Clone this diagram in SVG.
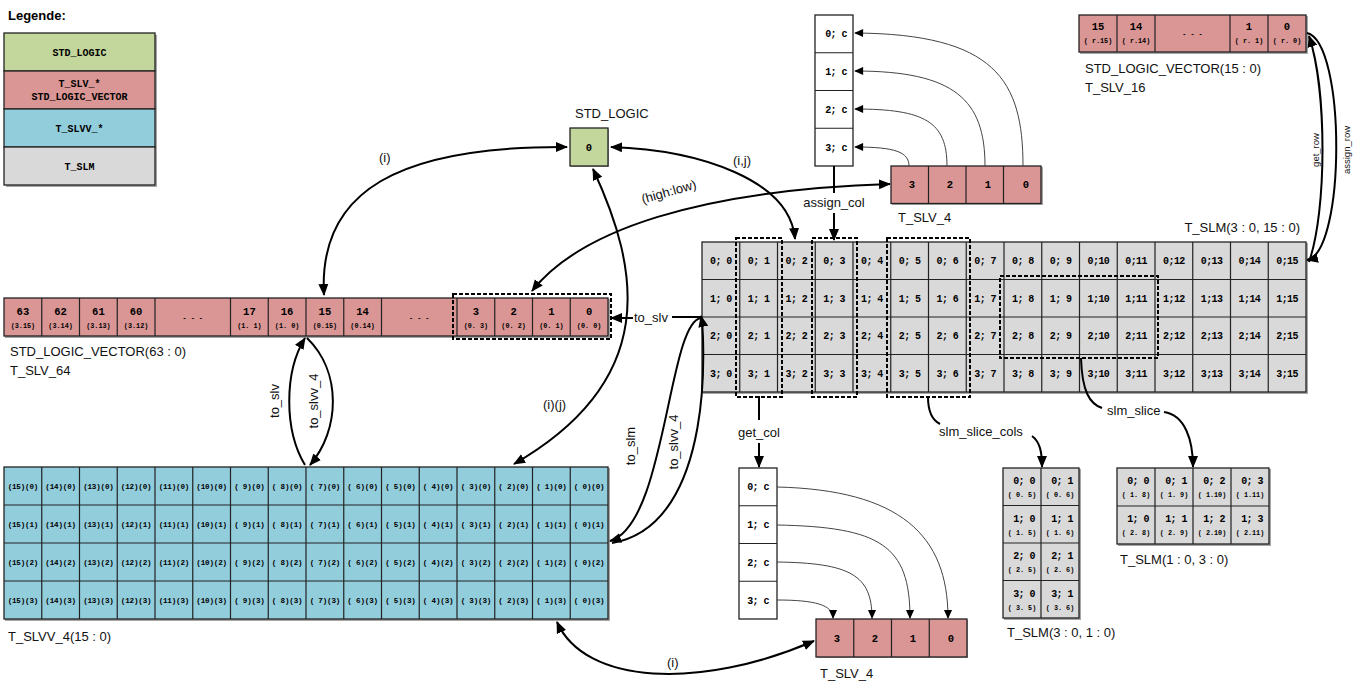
<svg xmlns="http://www.w3.org/2000/svg" width="1356" height="689" viewBox="0 0 1356 689">
<style>
.g{fill:#c3d69b}.r{fill:#da9694}.b{fill:#92cddc}.s{fill:#d9d9d9}.w{fill:#fff}
.bx{stroke:#222;stroke-width:1.3}
.gl{stroke:#222;stroke-width:1.2;fill:none}
.c{font-family:"Liberation Mono",monospace;font-weight:bold;font-size:10px;text-anchor:middle;fill:#000;letter-spacing:-0.6px}
.n{font-family:"Liberation Mono",monospace;font-weight:bold;font-size:10.5px;text-anchor:middle;fill:#000}
.sub{font-family:"Liberation Mono",monospace;font-weight:bold;font-size:6.8px;text-anchor:middle;fill:#000}
.v{font-family:"Liberation Mono",monospace;font-weight:bold;font-size:7.6px;text-anchor:middle;fill:#000;letter-spacing:-0.2px}
.lg{font-family:"Liberation Mono",monospace;font-weight:bold;font-size:10px;text-anchor:middle;fill:#000}
.l{font-family:"Liberation Sans",Arial,sans-serif;font-size:13px;fill:#111}
.ls{font-family:"Liberation Sans",Arial,sans-serif;font-size:9.5px;fill:#111;text-anchor:middle}
.dash{fill:none;stroke:#000;stroke-width:2;stroke-dasharray:4,2}
.k{fill:none;stroke:#000;stroke-width:2}
.t{fill:none;stroke:#444;stroke-width:1}
.sh{fill:#a6a6a6}
</style>
<defs>
<marker id="a" viewBox="0 0 12 12" refX="11" refY="6" markerWidth="12" markerHeight="12" markerUnits="userSpaceOnUse" orient="auto-start-reverse"><path d="M0,1 L12,6 L0,11 z" fill="#000"/></marker>
<marker id="as" viewBox="0 0 10 10" refX="9" refY="5" markerWidth="10" markerHeight="9" markerUnits="userSpaceOnUse" orient="auto-start-reverse"><path d="M0,0.5 L10,5 L0,9.5 z" fill="#000"/></marker>
</defs>
<rect width="1356" height="689" fill="#fff"/>

<g id="legend">
<text x="8" y="20" font-family="Liberation Sans,Arial,sans-serif" font-weight="bold" font-size="13">Legende:</text>
<rect x="6" y="35" width="151" height="152" class="sh"/>
<rect x="4" y="33" width="151" height="38" class="g bx"/>
<rect x="4" y="71" width="151" height="38" class="r bx"/>
<rect x="4" y="109" width="151" height="38" class="b bx"/>
<rect x="4" y="147" width="151" height="38" class="s bx"/>
<text x="79.5" y="56" class="lg">STD_LOGIC</text>
<text x="79.5" y="87" class="lg">T_SLV_*</text>
<text x="79.5" y="100" class="lg">STD_LOGIC_VECTOR</text>
<text x="79.5" y="132" class="lg">T_SLVV_*</text>
<text x="79.5" y="170" class="lg">T_SLM</text>
</g>

<g id="std_logic">
<text x="575" y="118" class="l">STD_LOGIC</text>
<rect x="571" y="129" width="38" height="38" class="sh"/>
<rect x="570" y="128" width="38" height="38" class="g bx"/>
<text x="589" y="151" class="n">0</text>
</g>

<g id="t_slv_64">
<rect x="5" y="299" width="605" height="39" class="sh"/>
<rect x="4" y="298" width="604" height="38" class="r bx"/>
<path class="gl" d="M41.75,298V336M79.5,298V336M117.25,298V336M155,298V336M230.5,298V336M268.25,298V336M306,298V336M343.75,298V336M381.5,298V336M457,298V336M494.75,298V336M532.5,298V336M570.25,298V336"/>
<text x="22.9" y="315" class="n">63</text><text x="22.9" y="328" class="sub">(3.15)</text>
<text x="60.6" y="315" class="n">62</text><text x="60.6" y="328" class="sub">(3.14)</text>
<text x="98.4" y="315" class="n">61</text><text x="98.4" y="328" class="sub">(3.13)</text>
<text x="136.1" y="315" class="n">60</text><text x="136.1" y="328" class="sub">(3.12)</text>
<text x="192.75" y="320" class="sub">- - -</text>
<text x="249.4" y="315" class="n">17</text><text x="249.4" y="328" class="sub">(1. 1)</text>
<text x="287.1" y="315" class="n">16</text><text x="287.1" y="328" class="sub">(1. 0)</text>
<text x="324.9" y="315" class="n">15</text><text x="324.9" y="328" class="sub">(0.15)</text>
<text x="362.6" y="315" class="n">14</text><text x="362.6" y="328" class="sub">(0.14)</text>
<text x="419.25" y="320" class="sub">- - -</text>
<text x="475.9" y="315" class="n">3</text><text x="475.9" y="328" class="sub">(0. 3)</text>
<text x="513.6" y="315" class="n">2</text><text x="513.6" y="328" class="sub">(0. 2)</text>
<text x="551.4" y="315" class="n">1</text><text x="551.4" y="328" class="sub">(0. 1)</text>
<text x="589.1" y="315" class="n">0</text><text x="589.1" y="328" class="sub">(0. 0)</text>
<rect x="453" y="294" width="158" height="45" class="dash"/>
<text x="10" y="356" class="l">STD_LOGIC_VECTOR(63 : 0)</text>
<text x="10" y="375" class="l">T_SLV_64</text>
</g>

<g id="t_slvv_4">
<rect x="5" y="468" width="605" height="153" class="sh"/>
<rect x="4" y="467" width="604" height="152" class="b bx"/>
<path class="gl" d="M41.75,467V619M79.5,467V619M117.25,467V619M155,467V619M192.75,467V619M230.5,467V619M268.25,467V619M306,467V619M343.75,467V619M381.5,467V619M419.25,467V619M457,467V619M494.75,467V619M532.5,467V619M570.25,467V619M4,505H608M4,543H608M4,581H608"/>
<text x="22.9" y="489" class="v">(15)(0)</text><text x="60.6" y="489" class="v">(14)(0)</text><text x="98.4" y="489" class="v">(13)(0)</text><text x="136.1" y="489" class="v">(12)(0)</text><text x="173.9" y="489" class="v">(11)(0)</text><text x="211.6" y="489" class="v">(10)(0)</text><text x="249.4" y="489" class="v">( 9)(0)</text><text x="287.1" y="489" class="v">( 8)(0)</text><text x="324.9" y="489" class="v">( 7)(0)</text><text x="362.6" y="489" class="v">( 6)(0)</text><text x="400.4" y="489" class="v">( 5)(0)</text><text x="438.1" y="489" class="v">( 4)(0)</text><text x="475.9" y="489" class="v">( 3)(0)</text><text x="513.6" y="489" class="v">( 2)(0)</text><text x="551.4" y="489" class="v">( 1)(0)</text><text x="589.1" y="489" class="v">( 0)(0)</text>
<text x="22.9" y="527" class="v">(15)(1)</text><text x="60.6" y="527" class="v">(14)(1)</text><text x="98.4" y="527" class="v">(13)(1)</text><text x="136.1" y="527" class="v">(12)(1)</text><text x="173.9" y="527" class="v">(11)(1)</text><text x="211.6" y="527" class="v">(10)(1)</text><text x="249.4" y="527" class="v">( 9)(1)</text><text x="287.1" y="527" class="v">( 8)(1)</text><text x="324.9" y="527" class="v">( 7)(1)</text><text x="362.6" y="527" class="v">( 6)(1)</text><text x="400.4" y="527" class="v">( 5)(1)</text><text x="438.1" y="527" class="v">( 4)(1)</text><text x="475.9" y="527" class="v">( 3)(1)</text><text x="513.6" y="527" class="v">( 2)(1)</text><text x="551.4" y="527" class="v">( 1)(1)</text><text x="589.1" y="527" class="v">( 0)(1)</text>
<text x="22.9" y="565" class="v">(15)(2)</text><text x="60.6" y="565" class="v">(14)(2)</text><text x="98.4" y="565" class="v">(13)(2)</text><text x="136.1" y="565" class="v">(12)(2)</text><text x="173.9" y="565" class="v">(11)(2)</text><text x="211.6" y="565" class="v">(10)(2)</text><text x="249.4" y="565" class="v">( 9)(2)</text><text x="287.1" y="565" class="v">( 8)(2)</text><text x="324.9" y="565" class="v">( 7)(2)</text><text x="362.6" y="565" class="v">( 6)(2)</text><text x="400.4" y="565" class="v">( 5)(2)</text><text x="438.1" y="565" class="v">( 4)(2)</text><text x="475.9" y="565" class="v">( 3)(2)</text><text x="513.6" y="565" class="v">( 2)(2)</text><text x="551.4" y="565" class="v">( 1)(2)</text><text x="589.1" y="565" class="v">( 0)(2)</text>
<text x="22.9" y="603" class="v">(15)(3)</text><text x="60.6" y="603" class="v">(14)(3)</text><text x="98.4" y="603" class="v">(13)(3)</text><text x="136.1" y="603" class="v">(12)(3)</text><text x="173.9" y="603" class="v">(11)(3)</text><text x="211.6" y="603" class="v">(10)(3)</text><text x="249.4" y="603" class="v">( 9)(3)</text><text x="287.1" y="603" class="v">( 8)(3)</text><text x="324.9" y="603" class="v">( 7)(3)</text><text x="362.6" y="603" class="v">( 6)(3)</text><text x="400.4" y="603" class="v">( 5)(3)</text><text x="438.1" y="603" class="v">( 4)(3)</text><text x="475.9" y="603" class="v">( 3)(3)</text><text x="513.6" y="603" class="v">( 2)(3)</text><text x="551.4" y="603" class="v">( 1)(3)</text><text x="589.1" y="603" class="v">( 0)(3)</text>
<text x="8" y="641" class="l">T_SLVV_4(15 : 0)</text>
</g>

<g id="t_slm">
<text x="1300" y="232" class="l" text-anchor="end">T_SLM(3 : 0, 15 : 0)</text>
<rect x="703" y="243" width="605" height="151" class="sh"/>
<rect x="702" y="242" width="604" height="150" class="s bx"/>
<path class="gl" d="M739.75,242V392M777.5,242V392M815.25,242V392M853,242V392M890.75,242V392M928.5,242V392M966.25,242V392M1004,242V392M1041.75,242V392M1079.5,242V392M1117.25,242V392M1155,242V392M1192.75,242V392M1230.5,242V392M1268.25,242V392M702,279.5H1306M702,317H1306M702,354.5H1306"/>
<text x="720.9" y="264" class="c">0; 0</text><text x="758.6" y="264" class="c">0; 1</text><text x="796.4" y="264" class="c">0; 2</text><text x="834.1" y="264" class="c">0; 3</text><text x="871.9" y="264" class="c">0; 4</text><text x="909.6" y="264" class="c">0; 5</text><text x="947.4" y="264" class="c">0; 6</text><text x="985.1" y="264" class="c">0; 7</text><text x="1022.9" y="264" class="c">0; 8</text><text x="1060.6" y="264" class="c">0; 9</text><text x="1098.4" y="264" class="c">0;10</text><text x="1136.1" y="264" class="c">0;11</text><text x="1173.9" y="264" class="c">0;12</text><text x="1211.6" y="264" class="c">0;13</text><text x="1249.4" y="264" class="c">0;14</text><text x="1287.1" y="264" class="c">0;15</text>
<text x="720.9" y="301.5" class="c">1; 0</text><text x="758.6" y="301.5" class="c">1; 1</text><text x="796.4" y="301.5" class="c">1; 2</text><text x="834.1" y="301.5" class="c">1; 3</text><text x="871.9" y="301.5" class="c">1; 4</text><text x="909.6" y="301.5" class="c">1; 5</text><text x="947.4" y="301.5" class="c">1; 6</text><text x="985.1" y="301.5" class="c">1; 7</text><text x="1022.9" y="301.5" class="c">1; 8</text><text x="1060.6" y="301.5" class="c">1; 9</text><text x="1098.4" y="301.5" class="c">1;10</text><text x="1136.1" y="301.5" class="c">1;11</text><text x="1173.9" y="301.5" class="c">1;12</text><text x="1211.6" y="301.5" class="c">1;13</text><text x="1249.4" y="301.5" class="c">1;14</text><text x="1287.1" y="301.5" class="c">1;15</text>
<text x="720.9" y="339" class="c">2; 0</text><text x="758.6" y="339" class="c">2; 1</text><text x="796.4" y="339" class="c">2; 2</text><text x="834.1" y="339" class="c">2; 3</text><text x="871.9" y="339" class="c">2; 4</text><text x="909.6" y="339" class="c">2; 5</text><text x="947.4" y="339" class="c">2; 6</text><text x="985.1" y="339" class="c">2; 7</text><text x="1022.9" y="339" class="c">2; 8</text><text x="1060.6" y="339" class="c">2; 9</text><text x="1098.4" y="339" class="c">2;10</text><text x="1136.1" y="339" class="c">2;11</text><text x="1173.9" y="339" class="c">2;12</text><text x="1211.6" y="339" class="c">2;13</text><text x="1249.4" y="339" class="c">2;14</text><text x="1287.1" y="339" class="c">2;15</text>
<text x="720.9" y="376.5" class="c">3; 0</text><text x="758.6" y="376.5" class="c">3; 1</text><text x="796.4" y="376.5" class="c">3; 2</text><text x="834.1" y="376.5" class="c">3; 3</text><text x="871.9" y="376.5" class="c">3; 4</text><text x="909.6" y="376.5" class="c">3; 5</text><text x="947.4" y="376.5" class="c">3; 6</text><text x="985.1" y="376.5" class="c">3; 7</text><text x="1022.9" y="376.5" class="c">3; 8</text><text x="1060.6" y="376.5" class="c">3; 9</text><text x="1098.4" y="376.5" class="c">3;10</text><text x="1136.1" y="376.5" class="c">3;11</text><text x="1173.9" y="376.5" class="c">3;12</text><text x="1211.6" y="376.5" class="c">3;13</text><text x="1249.4" y="376.5" class="c">3;14</text><text x="1287.1" y="376.5" class="c">3;15</text>
<rect x="736" y="238" width="46" height="159" class="dash"/>
<rect x="812" y="238" width="45" height="159" class="dash"/>
<rect x="887" y="238" width="83" height="159" class="dash"/>
<rect x="1000" y="276" width="158" height="82" class="dash"/>
</g>

<g id="t_slv_16">
<rect x="1080" y="16" width="228" height="38" class="sh"/>
<rect x="1079" y="15" width="227" height="37" class="r bx"/>
<path class="gl" d="M1117,15V52M1155,15V52M1230,15V52M1268,15V52"/>
<text x="1098" y="30" class="n">15</text><text x="1098" y="43" class="sub">( r.15)</text>
<text x="1136" y="30" class="n">14</text><text x="1136" y="43" class="sub">( r.14)</text>
<text x="1192.5" y="36" class="sub">- - -</text>
<text x="1249" y="30" class="n">1</text><text x="1249" y="43" class="sub">( r. 1)</text>
<text x="1287" y="30" class="n">0</text><text x="1287" y="43" class="sub">( r. 0)</text>
<text x="1085" y="73" class="l">STD_LOGIC_VECTOR(15 : 0)</text>
<text x="1085" y="92" class="l">T_SLV_16</text>
</g>

<g id="col_top">
<rect x="815" y="15" width="38" height="151" class="w bx"/>
<path class="gl" d="M815,52.75H853M815,90.5H853M815,128.25H853"/>
<text x="836" y="37" class="c">0; c</text>
<text x="836" y="75" class="c">1; c</text>
<text x="836" y="113" class="c">2; c</text>
<text x="836" y="151" class="c">3; c</text>
</g>

<g id="t_slv_4_top">
<rect x="892" y="167" width="151" height="38" class="sh"/>
<rect x="891" y="166" width="150" height="37.5" class="r bx"/>
<path class="gl" d="M928.5,166V203.5M966,166V203.5M1003.5,166V203.5"/>
<text x="912" y="188" class="n">3</text><text x="950" y="188" class="n">2</text><text x="988" y="188" class="n">1</text><text x="1026" y="188" class="n">0</text>
<text x="898" y="222" class="l">T_SLV_4</text>
</g>

<g id="col_bottom">
<rect x="739" y="468" width="38" height="151" class="w bx"/>
<path class="gl" d="M739,505.75H777M739,543.5H777M739,581.25H777"/>
<text x="758" y="490" class="c">0; c</text>
<text x="758" y="528" class="c">1; c</text>
<text x="758" y="566" class="c">2; c</text>
<text x="758" y="604" class="c">3; c</text>
</g>

<g id="t_slv_4_bottom">
<rect x="817" y="620" width="151" height="38" class="sh"/>
<rect x="816" y="619" width="151" height="38" class="r bx"/>
<path class="gl" d="M853.75,619V657M891.5,619V657M929.25,619V657"/>
<text x="837" y="642" class="n">3</text><text x="875" y="642" class="n">2</text><text x="913" y="642" class="n">1</text><text x="951" y="642" class="n">0</text>
<text x="820" y="678" class="l">T_SLV_4</text>
</g>

<g id="slm_cols_result">
<rect x="1004" y="469" width="77" height="151" class="sh"/>
<rect x="1003" y="468" width="76" height="150" class="s bx"/>
<path class="gl" d="M1041,468V618M1003,505.5H1079M1003,543H1079M1003,580.5H1079"/>
<text x="1024" y="484" class="c">0; 0</text><text x="1022" y="497" class="sub">( 0. 5)</text>
<text x="1062" y="484" class="c">0; 1</text><text x="1060" y="497" class="sub">( 0. 6)</text>
<text x="1024" y="521.5" class="c">1; 0</text><text x="1022" y="534.5" class="sub">( 1. 5)</text>
<text x="1062" y="521.5" class="c">1; 1</text><text x="1060" y="534.5" class="sub">( 1. 6)</text>
<text x="1024" y="559" class="c">2; 0</text><text x="1022" y="572" class="sub">( 2. 5)</text>
<text x="1062" y="559" class="c">2; 1</text><text x="1060" y="572" class="sub">( 2. 6)</text>
<text x="1024" y="596.5" class="c">3; 0</text><text x="1022" y="609.5" class="sub">( 3. 5)</text>
<text x="1062" y="596.5" class="c">3; 1</text><text x="1060" y="609.5" class="sub">( 3. 6)</text>
<text x="1007" y="637" class="l">T_SLM(3 : 0, 1 : 0)</text>
</g>

<g id="slm_slice_result">
<rect x="1118" y="469" width="153" height="77" class="sh"/>
<rect x="1117" y="468" width="152" height="76" class="s bx"/>
<path class="gl" d="M1155,468V544M1193,468V544M1231,468V544M1117,506H1269"/>
<text x="1138" y="484" class="c">0; 0</text><text x="1136" y="497" class="sub">( 1. 8)</text>
<text x="1176" y="484" class="c">0; 1</text><text x="1174" y="497" class="sub">( 1. 9)</text>
<text x="1214" y="484" class="c">0; 2</text><text x="1212" y="497" class="sub">( 1.10)</text>
<text x="1252" y="484" class="c">0; 3</text><text x="1250" y="497" class="sub">( 1.11)</text>
<text x="1138" y="522" class="c">1; 0</text><text x="1136" y="535" class="sub">( 2. 8)</text>
<text x="1176" y="522" class="c">1; 1</text><text x="1174" y="535" class="sub">( 2. 9)</text>
<text x="1214" y="522" class="c">1; 2</text><text x="1212" y="535" class="sub">( 2.10)</text>
<text x="1252" y="522" class="c">1; 3</text><text x="1250" y="535" class="sub">( 2.11)</text>
<text x="1120" y="564" class="l">T_SLM(1 : 0, 3 : 0)</text>
</g>

<g id="connectors">
<path class="k" d="M324,295 C318,190 400,146 567,147" marker-start="url(#a)" marker-end="url(#a)"/>
<text x="379" y="162" class="l">(i)</text>
<path class="k" d="M611,147 C700,150 790,180 795,239" marker-start="url(#a)" marker-end="url(#a)"/>
<text x="733" y="165" class="l">(i,j)</text>
<path class="k" d="M532,291 C580,230 700,190 890,184" marker-start="url(#a)" marker-end="url(#a)"/>
<text x="670" y="196" class="l" text-anchor="middle" transform="rotate(-16 670 196)">(high:low)</text>
<path class="k" d="M593,169 C640,270 660,380 514,464" marker-start="url(#a)" marker-end="url(#a)"/>
<text x="543" y="409" class="l">(i)(j)</text>
<path class="k" d="M834,166 V193"/>
<text x="834" y="207" class="l" text-anchor="middle">assign_col</text>
<path class="k" d="M834,213 V240" marker-end="url(#a)"/>
<path class="k" d="M633,318 H611" marker-end="url(#a)"/>
<path class="k" d="M672,317 H701"/>
<text x="634" y="322" class="l">to_slv</text>
<path class="k" d="M701,318 C668,322 666,525 610,541" marker-end="url(#a)"/>
<path class="k" d="M612,543 C718,525 704,330 701,316" marker-end="url(#a)"/>
<text x="635" y="446" class="l" text-anchor="middle" transform="rotate(-90 635 446)">to_slm</text>
<text x="678" y="442" class="l" text-anchor="middle" transform="rotate(-90 678 442)">to_slvv_4</text>
<path class="k" d="M305,465 C284,430 284,372 305,338" marker-end="url(#a)"/>
<path class="k" d="M307,338 C342,372 340,430 310,465" marker-end="url(#a)"/>
<text x="279" y="401" class="l" text-anchor="middle" transform="rotate(-90 279 401)">to_slv</text>
<text x="318" y="401" class="l" text-anchor="middle" transform="rotate(-90 318 401)">to_slvv_4</text>
<path class="k" d="M557,622 C585,685 700,690 814,641" marker-start="url(#a)" marker-end="url(#a)"/>
<text x="667" y="667" class="l">(i)</text>
<path class="k" d="M759,396 V420"/>
<text x="759" y="437" class="l" text-anchor="middle">get_col</text>
<path class="k" d="M759,443 V467" marker-end="url(#a)"/>
<path class="k" d="M928,397 C928,412 932,420 940,424"/>
<text x="939" y="436" class="l">slm_slice_cols</text>
<path class="k" d="M1032,436 C1040,442 1042,452 1042,467" marker-end="url(#a)"/>
<path class="k" d="M1081,358 C1082,392 1090,404 1102,408"/>
<text x="1107" y="415" class="l">slm_slice</text>
<path class="k" d="M1164,412 C1185,415 1193,440 1193,467" marker-end="url(#a)"/>
<path class="k" d="M1309,262 C1327,210 1327,90 1309,36" marker-end="url(#a)"/>
<path class="k" d="M1307,33 C1346,42 1346,252 1307,260" marker-end="url(#a)"/>
<text x="1319" y="150" class="ls" transform="rotate(-90 1319 150)">get_row</text>
<text x="1350" y="150" class="ls" transform="rotate(-90 1350 150)">assign_row</text>
<path class="t" d="M909,166 C909,152 895,147 855,147" marker-end="url(#as)"/>
<path class="t" d="M947,166 C947,122 925,109 855,109" marker-end="url(#as)"/>
<path class="t" d="M985,166 C985,100 955,71 855,71" marker-end="url(#as)"/>
<path class="t" d="M1023,166 C1023,80 995,34 855,33" marker-end="url(#as)"/>
<path class="t" d="M777,487 C900,490 948,535 948,618" marker-end="url(#as)"/>
<path class="t" d="M777,525 C880,527 910,545 910,618" marker-end="url(#as)"/>
<path class="t" d="M777,562 C850,563 872,575 872,618" marker-end="url(#as)"/>
<path class="t" d="M777,600 C815,600 833,605 833,618" marker-end="url(#as)"/>
</g>
</svg>
